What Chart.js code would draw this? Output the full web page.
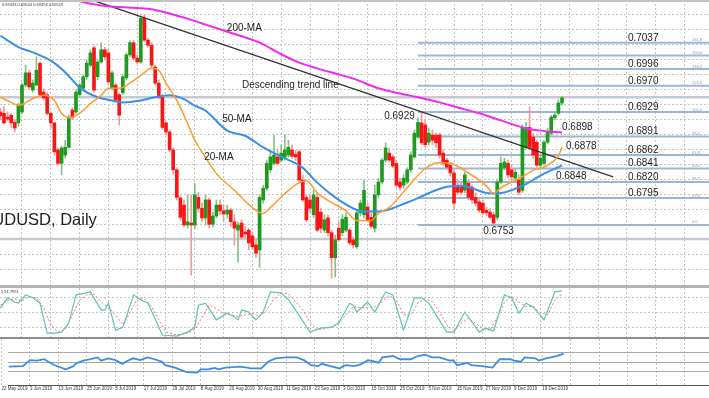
<!DOCTYPE html>
<html>
<head>
<meta charset="utf-8">
<title>AUDUSD, Daily</title>
<script src="https://cdn.jsdelivr.net/npm/chart.js@4.4.1/dist/chart.umd.min.js"></script>
<style>
    body { margin: 0; background: #fff; }
    #wrap { position: relative; width: 709px; height: 398px; overflow: hidden; }
    #wrap canvas, .sep { position: absolute; left: 0; }
    .sep { width: 709px; }
</style>
</head>
<body>
<div id="wrap">
    <canvas id="mainChart" width="709" height="285" style="top:0"></canvas>
    <div class="sep" style="top:0;height:2px;background:#c2c2c2"></div>
    <div class="sep" style="top:285px;height:3px;background:#b3b3b3"></div>
    <canvas id="stochChart" width="709" height="49" style="top:288px"></canvas>
    <div class="sep" style="top:337px;height:2px;background:#8e8e8e"></div>
    <canvas id="rsiChart" width="709" height="59" style="top:339px"></canvas>
</div>
<script>
// bar 0 = 22 May 2019, one bar per trading day, candles start at bar 2
const firstBar = 2

const opens = [
    0.6929, 0.6927, 0.6921, 0.6924, 0.6913, 0.6912, 0.6929, 0.6971, 0.6990, 0.6963,
    0.6971, 0.7005, 0.6960, 0.6956, 0.6927, 0.6912, 0.6870, 0.6849, 0.6862, 0.6874,
    0.6932, 0.6929, 0.6956, 0.6966, 0.6984, 0.7002, 0.7029, 0.6984, 0.7007, 0.7026,
    0.7021, 0.6966, 0.6971, 0.6956, 0.6959, 0.6982, 0.7018, 0.7037, 0.7013, 0.7007,
    0.7075, 0.7041, 0.7033, 0.6999, 0.6974, 0.6952, 0.6912, 0.6898, 0.6870, 0.6839,
    0.6795, 0.6784, 0.6753, 0.6756, 0.6753, 0.6796, 0.6779, 0.6764, 0.6792, 0.6754,
    0.6767, 0.6784, 0.6775, 0.6770, 0.6776, 0.6758, 0.6745, 0.6756, 0.6742, 0.6745,
    0.6736, 0.6722, 0.6714, 0.6792, 0.6810, 0.6839, 0.6849, 0.6859, 0.6854, 0.6859,
    0.6862, 0.6870, 0.6863, 0.6867, 0.6823, 0.6796, 0.6792, 0.6769, 0.6796, 0.6773,
    0.6745, 0.6764, 0.6741, 0.6702, 0.6748, 0.6741, 0.6745, 0.6745, 0.6730, 0.6719,
    0.6772, 0.6769, 0.6781, 0.6765, 0.6748, 0.6800, 0.6820, 0.6854, 0.6865, 0.6859,
    0.6849, 0.6820, 0.6815, 0.6820, 0.6839, 0.6859, 0.6890, 0.6912, 0.6909, 0.6882,
    0.6893, 0.6893, 0.6893, 0.6865, 0.6854, 0.6846, 0.6834, 0.6815, 0.6812, 0.6807,
    0.6818, 0.6812, 0.6796, 0.6789, 0.6787, 0.6776, 0.6773, 0.6769, 0.6765, 0.6820,
    0.6842, 0.6849, 0.6839, 0.6826, 0.6823, 0.6807, 0.6874, 0.6905, 0.6890, 0.6882,
    0.6846, 0.6849, 0.6882, 0.6896, 0.6920, 0.6927, 0.6943
]
const highs = [
    0.6935, 0.6937, 0.6929, 0.6927, 0.6917, 0.6943, 0.6974, 0.7002, 0.6994, 0.6979,
    0.7015, 0.7007, 0.6965, 0.6959, 0.6929, 0.6913, 0.6873, 0.6876, 0.6885, 0.6924,
    0.6935, 0.6963, 0.6974, 0.6987, 0.7010, 0.7026, 0.7032, 0.7010, 0.7037, 0.7030,
    0.7026, 0.6993, 0.6974, 0.6959, 0.6987, 0.7021, 0.7040, 0.7041, 0.7018, 0.7079,
    0.7080, 0.7044, 0.7037, 0.7002, 0.6979, 0.6956, 0.6913, 0.6901, 0.6873, 0.6842,
    0.6798, 0.6792, 0.6800, 0.6800, 0.6818, 0.6804, 0.6787, 0.6800, 0.6795, 0.6773,
    0.6792, 0.6792, 0.6784, 0.6784, 0.6779, 0.6769, 0.6758, 0.6761, 0.6751, 0.6748,
    0.6742, 0.6730, 0.6800, 0.6815, 0.6854, 0.6870, 0.6893, 0.6870, 0.6878, 0.6893,
    0.6885, 0.6878, 0.6870, 0.6870, 0.6831, 0.6800, 0.6800, 0.6807, 0.6803, 0.6779,
    0.6769, 0.6769, 0.6745, 0.6737, 0.6758, 0.6769, 0.6772, 0.6748, 0.6734, 0.6776,
    0.6792, 0.6823, 0.6787, 0.6772, 0.6815, 0.6826, 0.6857, 0.6881, 0.6873, 0.6862,
    0.6854, 0.6826, 0.6831, 0.6842, 0.6867, 0.6901, 0.6920, 0.6929, 0.6917, 0.6904,
    0.6901, 0.6896, 0.6896, 0.6870, 0.6857, 0.6851, 0.6839, 0.6823, 0.6818, 0.6835,
    0.6823, 0.6815, 0.6803, 0.6795, 0.6792, 0.6781, 0.6779, 0.6773, 0.6823, 0.6859,
    0.6857, 0.6854, 0.6845, 0.6839, 0.6831, 0.6909, 0.6913, 0.6937, 0.6896, 0.6885,
    0.6862, 0.6885, 0.6904, 0.6924, 0.6929, 0.6948, 0.6954
]
const lows = [
    0.6917, 0.6910, 0.6915, 0.6905, 0.6898, 0.6907, 0.6926, 0.6968, 0.6965, 0.6960,
    0.6970, 0.6954, 0.6948, 0.6924, 0.6904, 0.6862, 0.6846, 0.6831, 0.6857, 0.6873,
    0.6917, 0.6926, 0.6952, 0.6963, 0.6980, 0.6999, 0.6960, 0.6979, 0.7005, 0.7010,
    0.6973, 0.6963, 0.6945, 0.6909, 0.6956, 0.6979, 0.7015, 0.7010, 0.7005, 0.7005,
    0.7038, 0.7030, 0.6999, 0.6971, 0.6949, 0.6902, 0.6893, 0.6867, 0.6832, 0.6792,
    0.6761, 0.6750, 0.6748, 0.6675, 0.6748, 0.6773, 0.6758, 0.6753, 0.6748, 0.6750,
    0.6764, 0.6769, 0.6758, 0.6764, 0.6751, 0.6722, 0.6695, 0.6731, 0.6733, 0.6714,
    0.6716, 0.6702, 0.6687, 0.6787, 0.6807, 0.6835, 0.6846, 0.6846, 0.6851, 0.6854,
    0.6859, 0.6857, 0.6854, 0.6820, 0.6789, 0.6758, 0.6773, 0.6764, 0.6742, 0.6741,
    0.6741, 0.6736, 0.6670, 0.6672, 0.6727, 0.6736, 0.6742, 0.6722, 0.6717, 0.6716,
    0.6767, 0.6764, 0.6758, 0.6748, 0.6742, 0.6795, 0.6817, 0.6851, 0.6851, 0.6842,
    0.6812, 0.6807, 0.6810, 0.6817, 0.6835, 0.6857, 0.6888, 0.6878, 0.6874, 0.6878,
    0.6878, 0.6874, 0.6857, 0.6846, 0.6839, 0.6829, 0.6779, 0.6800, 0.6800, 0.6803,
    0.6792, 0.6787, 0.6782, 0.6773, 0.6769, 0.6767, 0.6762, 0.6753, 0.6761, 0.6817,
    0.6839, 0.6826, 0.6823, 0.6820, 0.6800, 0.6804, 0.6871, 0.6870, 0.6857, 0.6843,
    0.6843, 0.6846, 0.6879, 0.6893, 0.6917, 0.6924, 0.6940
]
const closes = [
    0.6923, 0.6912, 0.6918, 0.6912, 0.6904, 0.6940, 0.6971, 0.6990, 0.6968, 0.6974,
    0.6994, 0.6956, 0.6951, 0.6927, 0.6912, 0.6867, 0.6849, 0.6873, 0.6874, 0.6921,
    0.6920, 0.6960, 0.6971, 0.6984, 0.7005, 0.7021, 0.6963, 0.7007, 0.7026, 0.7015,
    0.6976, 0.6990, 0.6948, 0.6924, 0.6984, 0.7018, 0.7037, 0.7013, 0.7007, 0.7075,
    0.7041, 0.7033, 0.7002, 0.6974, 0.6952, 0.6905, 0.6898, 0.6870, 0.6839, 0.6796,
    0.6765, 0.6753, 0.6758, 0.6753, 0.6800, 0.6779, 0.6764, 0.6792, 0.6754, 0.6767,
    0.6784, 0.6775, 0.6770, 0.6776, 0.6758, 0.6748, 0.6753, 0.6734, 0.6739, 0.6725,
    0.6719, 0.6709, 0.6796, 0.6810, 0.6849, 0.6859, 0.6862, 0.6849, 0.6865, 0.6870,
    0.6874, 0.6860, 0.6859, 0.6823, 0.6792, 0.6761, 0.6779, 0.6800, 0.6745, 0.6748,
    0.6761, 0.6741, 0.6702, 0.6730, 0.6730, 0.6762, 0.6765, 0.6725, 0.6722, 0.6772,
    0.6787, 0.6807, 0.6761, 0.6751, 0.6800, 0.6820, 0.6854, 0.6873, 0.6854, 0.6845,
    0.6815, 0.6812, 0.6826, 0.6839, 0.6862, 0.6896, 0.6913, 0.6881, 0.6878, 0.6896,
    0.6885, 0.6881, 0.6862, 0.6849, 0.6843, 0.6834, 0.6787, 0.6804, 0.6804, 0.6831,
    0.6796, 0.6792, 0.6787, 0.6776, 0.6772, 0.6772, 0.6765, 0.6756, 0.6820, 0.6849,
    0.6851, 0.6831, 0.6828, 0.6835, 0.6804, 0.6904, 0.6905, 0.6874, 0.6862, 0.6846,
    0.6857, 0.6882, 0.6898, 0.6921, 0.6924, 0.6943, 0.6951
]

// one label every 8 bars, starting at bar 0
const dateLabels = [
    '22 May 2019', '3 Jun 2019', '13 Jun 2019', '25 Jun 2019', '5 Jul 2019', '17 Jul 2019',
    '29 Jul 2019', '8 Aug 2019', '20 Aug 2019', '30 Aug 2019', '11 Sep 2019', '23 Sep 2019',
    '3 Oct 2019', '15 Oct 2019', '25 Oct 2019', '5 Nov 2019', '15 Nov 2019', '27 Nov 2019',
    '9 Dec 2019', '19 Dec 2019'
]

// moving averages as [bar, price]
const ma20 = [
    [2, 0.6952], [5, 0.6944], [7, 0.6939], [11, 0.6950], [14, 0.6955], [17, 0.6947], [19, 0.6927],
    [21, 0.6920], [24, 0.6927], [27, 0.6942], [30, 0.6955], [32, 0.6966], [35, 0.6966], [38, 0.6974],
    [41, 0.6986], [44, 0.6997], [46, 0.6994], [48, 0.6974], [51, 0.6947], [54, 0.6911], [56, 0.6885],
    [59, 0.6858], [62, 0.6833], [67, 0.6807], [72, 0.6780], [75, 0.6771], [77, 0.6780], [81, 0.6802],
    [85, 0.6819], [87, 0.6822], [90, 0.6803], [94, 0.6788], [98, 0.6775], [101, 0.6760], [105, 0.6760],
    [107, 0.6771], [110, 0.6780], [115, 0.6811], [120, 0.6841], [124, 0.6850], [127, 0.6849],
    [132, 0.6834], [137, 0.6814], [139, 0.6802], [141, 0.6811], [146, 0.6825], [150, 0.6838],
    [154, 0.6846], [157, 0.6861], [158, 0.6874]
]
const ma50 = [
    [2, 0.7048], [7, 0.7030], [11, 0.7022], [16, 0.7009], [20, 0.6991], [24, 0.6967], [29, 0.6952],
    [33, 0.6947], [36, 0.6944], [41, 0.6947], [45, 0.6952], [49, 0.6955], [53, 0.6949], [56, 0.6939],
    [59, 0.6931], [65, 0.6900], [70, 0.6892], [75, 0.6874], [81, 0.6857], [86, 0.6842], [90, 0.6819],
    [95, 0.6796], [100, 0.6779], [103, 0.6774], [107, 0.6774], [115, 0.6788], [125, 0.6811],
    [130, 0.6814], [137, 0.6803], [140, 0.6802], [147, 0.6814], [152, 0.6830], [158, 0.6846]
]
const ma200 = [
    [10, 0.7122], [20, 0.7108], [23, 0.7103], [30, 0.7095], [40, 0.7091], [44, 0.7089], [50, 0.7081],
    [53, 0.7076], [58, 0.7067], [64, 0.7056], [70, 0.7045], [74, 0.7037], [80, 0.7019], [85, 0.7006],
    [90, 0.6997], [95, 0.6989], [100, 0.6981], [107, 0.6966], [112, 0.6959], [118, 0.6952],
    [124, 0.6944], [129, 0.6936], [135, 0.6927], [141, 0.6916], [147, 0.6905], [152, 0.6900],
    [158, 0.6897]
]

const trendLine = [[27.7, 0.7103], [172.2, 0.6828]]
const grayLevels = [0.6952, 0.6731]

const fibStart = 118
const fibLevels = [0.7037, 0.7017, 0.6996, 0.6970, 0.6929, 0.6891, 0.6862, 0.6841, 0.6820, 0.6795, 0.6753]
const fibPercents = ['161.8', '150.0', '138.2', '123.6', '100.0', '78.6', '61.8', '50.0', '38.2', '23.6', '0.0']
const fibTexts = ['0.7037', '', '0.6996', '0.6970', '0.6929', '0.6891', '0.6862', '0.6841', '0.6820', '0.6795', '']

// stochastic %K / %D and RSI, [bar, value]
const stochK = [
    [2, 59], [4, 80], [6, 71], [7, 69], [9, 86], [11, 80], [13, 69], [15, 8], [17, 8], [19, 10],
    [21, 29], [23, 86], [26, 90], [27, 92], [30, 55], [31, 55], [32, 69], [34, 14], [36, 20], [39, 86],
    [41, 76], [43, 69], [47, 4], [51, 2], [54, 10], [56, 20], [57, 65], [59, 69], [62, 35], [65, 49],
    [67, 41], [68, 35], [69, 55], [71, 51], [73, 35], [75, 51], [77, 92], [80, 90], [82, 76], [84, 55],
    [88, 10], [91, 18], [94, 20], [96, 29], [99, 69], [100, 65], [101, 51], [104, 71], [106, 51],
    [109, 92], [111, 86], [114, 14], [117, 80], [119, 80], [121, 69], [126, 10], [128, 10], [131, 51],
    [135, 10], [137, 18], [139, 12], [142, 86], [144, 80], [146, 49], [148, 69], [150, 61], [153, 35],
    [156, 92], [158, 94]
]
const stochD = [
    [2, 65], [4, 75], [6, 78], [8, 74], [10, 82], [12, 80], [14, 60], [16, 25], [18, 10], [20, 15],
    [22, 45], [24, 75], [26, 86], [28, 88], [30, 72], [32, 60], [34, 45], [36, 25], [38, 50], [40, 78],
    [42, 78], [44, 62], [46, 35], [48, 10], [51, 4], [54, 8], [56, 15], [58, 40], [60, 65], [62, 58],
    [64, 48], [66, 45], [68, 42], [70, 45], [72, 48], [74, 42], [76, 55], [78, 78], [80, 90], [82, 88],
    [84, 72], [86, 55], [88, 30], [90, 15], [92, 17], [94, 20], [96, 28], [98, 45], [100, 62],
    [102, 60], [104, 60], [106, 62], [108, 72], [110, 85], [112, 75], [114, 45], [116, 45], [118, 70],
    [120, 78], [122, 72], [124, 50], [126, 25], [128, 12], [130, 28], [132, 38], [134, 28], [136, 17],
    [138, 14], [140, 40], [142, 70], [144, 83], [146, 72], [148, 62], [150, 62], [152, 50], [154, 45],
    [156, 75], [158, 88]
]
const rsi = [
    [2, 40], [6, 41], [8, 54], [10, 53], [12, 56], [13, 51], [15, 43], [18, 34], [20, 40], [21, 47],
    [23, 53], [25, 56], [27, 60], [28, 53], [30, 58], [32, 54], [34, 46], [35, 51], [37, 58], [39, 54],
    [41, 60], [43, 56], [45, 51], [46, 43], [49, 37], [52, 28], [55, 27], [56, 34], [58, 34], [60, 37],
    [61, 34], [63, 38], [67, 40], [69, 38], [70, 36], [73, 36], [75, 51], [77, 58], [80, 60], [83, 60],
    [85, 54], [87, 43], [89, 41], [90, 46], [93, 40], [95, 36], [96, 41], [97, 43], [99, 41], [101, 45],
    [103, 54], [105, 51], [106, 48], [107, 60], [110, 63], [112, 56], [115, 56], [117, 63], [119, 66],
    [121, 60], [123, 60], [126, 53], [127, 54], [128, 43], [131, 48], [132, 43], [135, 41], [138, 38],
    [140, 56], [143, 56], [144, 53], [146, 51], [147, 60], [150, 58], [151, 53], [153, 58], [156, 63],
    [158, 68]
]

// text on the chart: [text, bar, price]
const notes = [
    ['200-MA', 64.9, 0.7059],
    ['Descending trend line', 69.1, 0.6971],
    ['50-MA', 63.6, 0.6917],
    ['20-MA', 58.6, 0.6859],
    ['0.6929', 108.6, 0.6923],
    ['0.6898', 158.0, 0.6906],
    ['0.6878', 159.1, 0.6876],
    ['0.6848', 156.3, 0.6829],
    ['0.6753', 136.1, 0.6744]
]
const title = ['AUDUSD, Daily', -3.3, 0.6753]
const quoteLine = '0.69433 0.69544 0.69494 0.69519'
const stochLine = '5 91.7991'


// CHART SETUP

const xMin = 1.89
const xMax = 198.83
const priceTop = 0.71035
const priceBottom = 0.66595
const priceGrid = 0.0023364
const fibTextBar = 176.3
const fibPctBar = 194.1
const FONT = '"Liberation Sans", Arial, sans-serif'

const toPoints = list => list.map(([x, y]) => ({ x, y }))
const flat = (x0, x1, y) => [{ x: x0, y }, { x: x1, y }]

const xAxis = showLabels => ({
    type: 'linear', min: xMin, max: xMax, offset: false,
    afterBuildTicks: axis => { axis.ticks = Array.from({ length: 25 }, (_, k) => ({ value: k * 8 })) },
    afterFit: axis => { axis.height = showLabels ? 13 : 0 },
    grid: { color: '#c4c4c4', lineWidth: 1, drawTicks: false, offset: false },
    border: { display: showLabels, color: '#555', width: 1, dash: [2, 2] },
    ticks: showLabels ? {
        font: { size: 4.5, family: FONT }, color: '#333', align: 'start', padding: 1.5,
        autoSkip: false, maxRotation: 0, minRotation: 0,
        callback: v => dateLabels[v / 8] || ''
    } : { display: false }
})

const yAxis = (min, max, ticks, dash, color) => ({
    type: 'linear', min, max,
    afterBuildTicks: axis => { axis.ticks = ticks.map(value => ({ value })) },
    afterFit: axis => { axis.width = 0 },
    grid: { color, lineWidth: 1, drawTicks: false },
    border: { display: false, dash },
    ticks: { display: false }
})

const options = (y, showLabels) => ({
    responsive: false,
    animation: false,
    events: [],
    layout: { padding: 0 },
    plugins: { legend: { display: false }, tooltip: { enabled: false } },
    scales: { x: xAxis(showLabels), y }
})

const line = (data, color, width, order, extra) => Object.assign({
    type: 'line', data, borderColor: color, borderWidth: width,
    pointRadius: 0, fill: false, tension: 0, order
}, extra)

const smooth = { cubicInterpolationMode: 'monotone' }

const bars = opens.map((_, k) => firstBar + k)
const rising = closes.map((c, k) => c >= opens[k])

const priceTicks = Array.from({ length: 18 }, (_, k) => priceTop - (k + 1) * priceGrid)

const mainNotes = {
    id: 'mainNotes',
    afterDatasetsDraw(chart) {
        const { ctx, scales: { x, y } } = chart
        ctx.save()
        ctx.fillStyle = '#1e1e1e'
        ctx.textBaseline = 'middle'
        ctx.font = '10px ' + FONT
        notes.forEach(([text, bar, price]) => ctx.fillText(text, x.getPixelForValue(bar), y.getPixelForValue(price)))

        ctx.textBaseline = 'alphabetic'
        fibLevels.forEach((level, k) => {
            const py = y.getPixelForValue(level)
            if (fibTexts[k]) {
                ctx.font = '10px ' + FONT
                ctx.fillStyle = '#1e1e1e'
                ctx.fillText(fibTexts[k], x.getPixelForValue(fibTextBar), py - 2)
            }
            ctx.font = '4px ' + FONT
            ctx.fillStyle = '#7f9ec2'
            ctx.fillText(fibPercents[k], x.getPixelForValue(fibPctBar), py - 1.5)
        })

        ctx.fillStyle = '#1e1e1e'
        ctx.font = '16.5px ' + FONT
        ctx.fillText(title[0], x.getPixelForValue(title[1]), y.getPixelForValue(title[2]))
        ctx.font = '4px ' + FONT
        ctx.fillStyle = '#333'
        ctx.fillText(quoteLine, chart.chartArea.left + 2, chart.chartArea.top + 6)
        ctx.restore()
    }
}

const stochNote = {
    id: 'stochNote',
    afterDatasetsDraw(chart) {
        const { ctx } = chart
        ctx.save()
        ctx.font = '4px ' + FONT
        ctx.fillStyle = '#333'
        ctx.fillText(stochLine, chart.chartArea.left + 1, chart.chartArea.top + 5)
        ctx.restore()
    }
}

new Chart(document.getElementById('mainChart'), {
    type: 'bar',
    data: {
        datasets: [
            ...grayLevels.map(p => line(flat(xMin, xMax, p), '#c6cad0', 2.5, 30)),
            ...fibLevels.map(p => line(flat(fibStart, xMax, p), '#9db7d3', 2, 25)),
            {
                type: 'bar', order: 21, grouped: false, barThickness: 1,
                data: bars.map((x, k) => ({ x, y: [lows[k], highs[k]] })),
                backgroundColor: rising.map(r => r ? '#84c284' : '#f29a9a')
            },
            {
                type: 'bar', order: 20, grouped: false, barThickness: 3, minBarLength: 1,
                data: bars.map((x, k) => ({ x, y: [opens[k], closes[k]] })),
                backgroundColor: rising.map(r => r ? '#1e9b1e' : '#fa1414')
            },
            line(toPoints(trendLine), '#333333', 1.2, 3),
            line(toPoints(ma200), '#ee2bee', 2, 2, smooth),
            line(toPoints(ma50), '#3b8ee5', 2, 1, smooth),
            line(toPoints(ma20), '#ff9a30', 1.5, 0, smooth)
        ]
    },
    options: options(yAxis(priceBottom, priceTop, priceTicks, [2, 2], '#c4c4c4'), false),
    plugins: [mainNotes]
})

new Chart(document.getElementById('stochChart'), {
    type: 'line',
    data: {
        datasets: [
            line(toPoints(stochD), '#ff6b6b', 1, 1, { borderDash: [2, 2] }),
            line(toPoints(stochK), '#5cc4b8', 1.2, 0)
        ]
    },
    options: options(yAxis(0, 100, [20, 50, 80], [2, 2], '#c4c4c4'), false),
    plugins: [stochNote]
})

new Chart(document.getElementById('rsiChart'), {
    type: 'line',
    data: {
        datasets: [line(toPoints(rsi), '#3b8ee5', 1.8, 0)]
    },
    options: options(yAxis(0, 100, [30, 50, 70], [], '#a8a8a8'), true)
})
</script>
</body>
</html>
